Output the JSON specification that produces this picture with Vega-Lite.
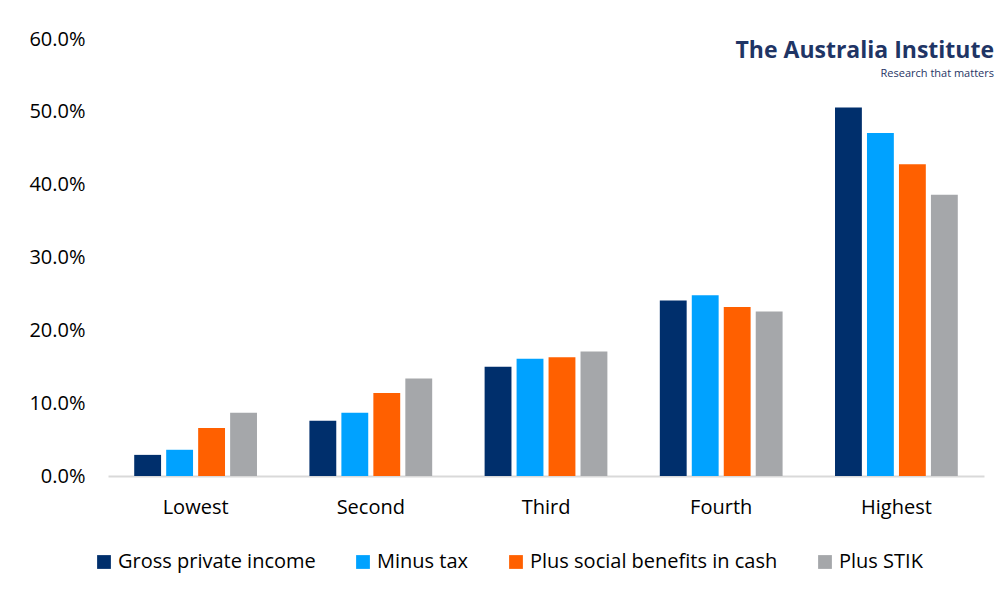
{
  "$schema": "https://vega.github.io/schema/vega-lite/v6.json",
  "width": 876,
  "height": 437,
  "autosize": {"type": "none"},
  "padding": {"left": 108, "top": 39, "right": 18, "bottom": 118},
  "background": "white",
  "title": {
    "text": "The Australia Institute",
    "subtitle": "Research that matters",
    "anchor": "end",
    "frame": "group",
    "color": "#1f3565",
    "font": "Open Sans",
    "fontSize": 23,
    "fontWeight": "bold",
    "subtitleFont": "Open Sans",
    "subtitleFontSize": 11,
    "subtitleColor": "#1f3565",
    "subtitlePadding": 5,
    "offset": -50,
    "dx": 10
  },
  "data": {
    "values": [
      {"quintile": "Lowest", "series": "Gross private income", "share": 0.029},
      {"quintile": "Lowest", "series": "Minus tax", "share": 0.036},
      {"quintile": "Lowest", "series": "Plus social benefits in cash", "share": 0.066},
      {"quintile": "Lowest", "series": "Plus STIK", "share": 0.087},
      {"quintile": "Second", "series": "Gross private income", "share": 0.076},
      {"quintile": "Second", "series": "Minus tax", "share": 0.087},
      {"quintile": "Second", "series": "Plus social benefits in cash", "share": 0.114},
      {"quintile": "Second", "series": "Plus STIK", "share": 0.134},
      {"quintile": "Third", "series": "Gross private income", "share": 0.150},
      {"quintile": "Third", "series": "Minus tax", "share": 0.161},
      {"quintile": "Third", "series": "Plus social benefits in cash", "share": 0.163},
      {"quintile": "Third", "series": "Plus STIK", "share": 0.171},
      {"quintile": "Fourth", "series": "Gross private income", "share": 0.241},
      {"quintile": "Fourth", "series": "Minus tax", "share": 0.248},
      {"quintile": "Fourth", "series": "Plus social benefits in cash", "share": 0.232},
      {"quintile": "Fourth", "series": "Plus STIK", "share": 0.226},
      {"quintile": "Highest", "series": "Gross private income", "share": 0.506},
      {"quintile": "Highest", "series": "Minus tax", "share": 0.471},
      {"quintile": "Highest", "series": "Plus social benefits in cash", "share": 0.428},
      {"quintile": "Highest", "series": "Plus STIK", "share": 0.386}
    ]
  },
  "mark": {"type": "bar"},
  "encoding": {
    "x": {
      "field": "quintile",
      "type": "nominal",
      "sort": ["Lowest", "Second", "Third", "Fourth", "Highest"],
      "scale": {"paddingInner": 0.27, "paddingOuter": 0.135},
      "axis": {
        "title": null,
        "labelAngle": 0,
        "labelFont": "Open Sans",
        "labelFontSize": 20,
        "labelColor": "#000000",
        "ticks": false,
        "domainColor": "#d9d9d9",
        "domainWidth": 2,
        "labelPadding": 21
      }
    },
    "xOffset": {
      "field": "series",
      "sort": ["Gross private income", "Minus tax", "Plus social benefits in cash", "Plus STIK"],
      "scale": {"paddingInner": 0.16, "paddingOuter": 0.08}
    },
    "y": {
      "field": "share",
      "type": "quantitative",
      "scale": {"domain": [0, 0.6]},
      "axis": {
        "title": null,
        "format": ".1%",
        "values": [0, 0.1, 0.2, 0.3, 0.4, 0.5, 0.6],
        "grid": false,
        "domain": false,
        "ticks": false,
        "labelPadding": 23,
        "labelFont": "Open Sans",
        "labelFontSize": 20,
        "labelColor": "#000000"
      }
    },
    "color": {
      "field": "series",
      "type": "nominal",
      "sort": ["Gross private income", "Minus tax", "Plus social benefits in cash", "Plus STIK"],
      "scale": {"range": ["#002f6c", "#00a2ff", "#ff6000", "#a5a7aa"]},
      "legend": {
        "title": null,
        "orient": "none",
        "direction": "horizontal",
        "legendX": -14,
        "legendY": 513,
        "symbolType": "square",
        "symbolSize": 190,
        "symbolStrokeWidth": 0,
        "labelFont": "Open Sans",
        "labelFontSize": 20,
        "labelColor": "#000000",
        "labelOffset": 4,
        "labelLimit": 0,
        "columnPadding": 37
      }
    }
  },
  "config": {"view": {"stroke": null}}
}
